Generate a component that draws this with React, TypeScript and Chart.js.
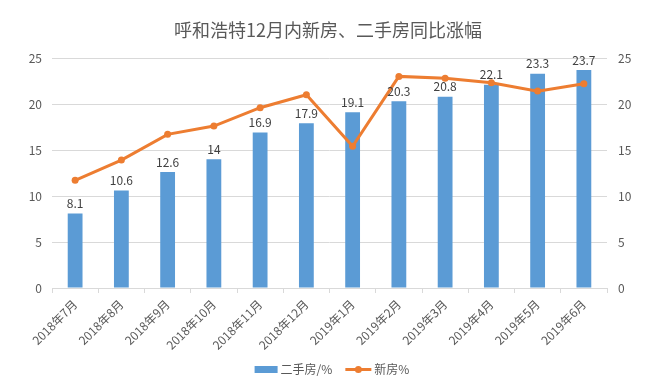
import React, { useEffect, useRef } from "react";
import { Chart, registerables } from "chart.js";

Chart.register(...registerables);

const TITLE = "呼和浩特12月内新房、二手房同比涨幅";
const categories = [
  "2018年7月", "2018年8月", "2018年9月", "2018年10月", "2018年11月", "2018年12月",
  "2019年1月", "2019年2月", "2019年3月", "2019年4月", "2019年5月", "2019年6月",
];
const secondHand = [8.1, 10.6, 12.6, 14, 16.9, 17.9, 19.1, 20.3, 20.8, 22.1, 23.3, 23.7];
const newHome = [11.7, 13.9, 16.7, 17.6, 19.6, 21.0, 15.4, 23.0, 22.8, 22.3, 21.4, 22.2];
const seriesNames = ["二手房/%", "新房%"];
const yMin = 0;
const yMax = 25;
const yStep = 5;

const FONT = '"Noto Sans CJK SC", "Noto Sans", sans-serif';
const BAR_COLOR = "#5B9BD5";
const LINE_COLOR = "#ED7D31";
const TEXT_COLOR = "#595959";
const GRID_COLOR = "#D9D9D9";

const decorPlugin = {
  id: "decor",
  afterDatasetsDraw(chart: any) {
    const ctx = chart.ctx;
    const meta = chart.getDatasetMeta(0);
    ctx.save();
    ctx.font = `12px ${FONT}`;
    ctx.fillStyle = "#404040";
    ctx.textAlign = "center";
    ctx.textBaseline = "bottom";
    meta.data.forEach((el: any, i: number) => {
      ctx.fillText(String(secondHand[i]), el.x, el.y - 4);
    });
    ctx.restore();
  },
  afterDraw(chart: any) {
    const ctx = chart.ctx;
    const W = chart.width;
    ctx.save();
    // title
    ctx.font = `18px ${FONT}`;
    ctx.fillStyle = TEXT_COLOR;
    ctx.textAlign = "center";
    ctx.textBaseline = "middle";
    ctx.fillText(TITLE, W / 2, 30);

    // legend
    ctx.font = `12px ${FONT}`;
    const t1 = ctx.measureText(seriesNames[0]).width;
    const t2 = ctx.measureText(seriesNames[1]).width;
    const rectW = 23, gap = 3, between = 13, lineW = 26;
    const total = rectW + gap + t1 + between + lineW + gap + t2;
    let x = W / 2 + 4 - total / 2;
    const cy = 369.5;
    ctx.fillStyle = BAR_COLOR;
    ctx.fillRect(x, cy - 3.5, rectW, 7);
    x += rectW + gap;
    ctx.fillStyle = TEXT_COLOR;
    ctx.textAlign = "left";
    ctx.fillText(seriesNames[0], x, cy);
    x += t1 + between;
    ctx.strokeStyle = LINE_COLOR;
    ctx.lineWidth = 3;
    ctx.beginPath();
    ctx.moveTo(x, cy);
    ctx.lineTo(x + lineW, cy);
    ctx.stroke();
    ctx.fillStyle = LINE_COLOR;
    ctx.beginPath();
    ctx.arc(x + lineW / 2, cy, 3.5, 0, Math.PI * 2);
    ctx.fill();
    x += lineW + gap;
    ctx.fillStyle = TEXT_COLOR;
    ctx.fillText(seriesNames[1], x, cy);
    ctx.restore();
  },
};

export default function App() {
  const ref = useRef<HTMLCanvasElement | null>(null);

  useEffect(() => {
    if (!ref.current) return;
    const chart = new Chart(ref.current, {
      type: "bar",
      data: {
        labels: categories,
        datasets: [
          {
            type: "bar",
            label: seriesNames[0],
            data: secondHand,
            backgroundColor: BAR_COLOR,
            borderWidth: 0,
            categoryPercentage: 1,
            barPercentage: 0.32,
            yAxisID: "y",
            order: 2,
          },
          {
            type: "line",
            label: seriesNames[1],
            data: newHome,
            borderColor: LINE_COLOR,
            backgroundColor: LINE_COLOR,
            borderWidth: 3,
            pointRadius: 3.5,
            pointBackgroundColor: LINE_COLOR,
            pointBorderWidth: 0,
            tension: 0,
            yAxisID: "y1",
            order: 1,
          },
        ],
      } as any,
      options: {
        animation: false,
        responsive: false,
        maintainAspectRatio: false,
        layout: { padding: { top: 58, bottom: 30, left: 0, right: 0 } },
        plugins: {
          legend: { display: false },
          title: { display: false },
          tooltip: { enabled: false },
        },
        scales: {
          x: {
            offset: true,
            grid: {
              offset: true,
              drawOnChartArea: false,
              drawTicks: true,
              tickLength: 5,
              color: GRID_COLOR,
            },
            border: { color: GRID_COLOR },
            ticks: {
              color: TEXT_COLOR,
              font: { family: FONT, size: 12 },
              minRotation: 45,
              maxRotation: 45,
              padding: 4,
              autoSkip: false,
            },
            afterFit: (s: any) => {
              s.height = 64;
            },
          },
          y: {
            position: "left",
            min: yMin,
            max: yMax,
            ticks: {
              stepSize: yStep,
              color: TEXT_COLOR,
              font: { family: FONT, size: 12 },
              padding: 10,
            },
            grid: { color: GRID_COLOR, drawTicks: false },
            border: { display: false },
            afterFit: (s: any) => {
              s.width = 52;
            },
          },
          y1: {
            position: "right",
            min: yMin,
            max: yMax,
            ticks: {
              stepSize: yStep,
              color: TEXT_COLOR,
              font: { family: FONT, size: 12 },
              padding: 11,
            },
            grid: { drawOnChartArea: false, drawTicks: false },
            border: { display: false },
            afterFit: (s: any) => {
              s.width = 49;
            },
          },
        },
      } as any,
      plugins: [decorPlugin],
    });
    return () => chart.destroy();
  }, []);

  return (
    <div style={{ position: "absolute", left: 0, top: 0, width: 656, height: 382, background: "#fff" }}>
      <canvas ref={ref} width={656} height={382} style={{ width: 656, height: 382, display: "block" }} />
    </div>
  );
}
